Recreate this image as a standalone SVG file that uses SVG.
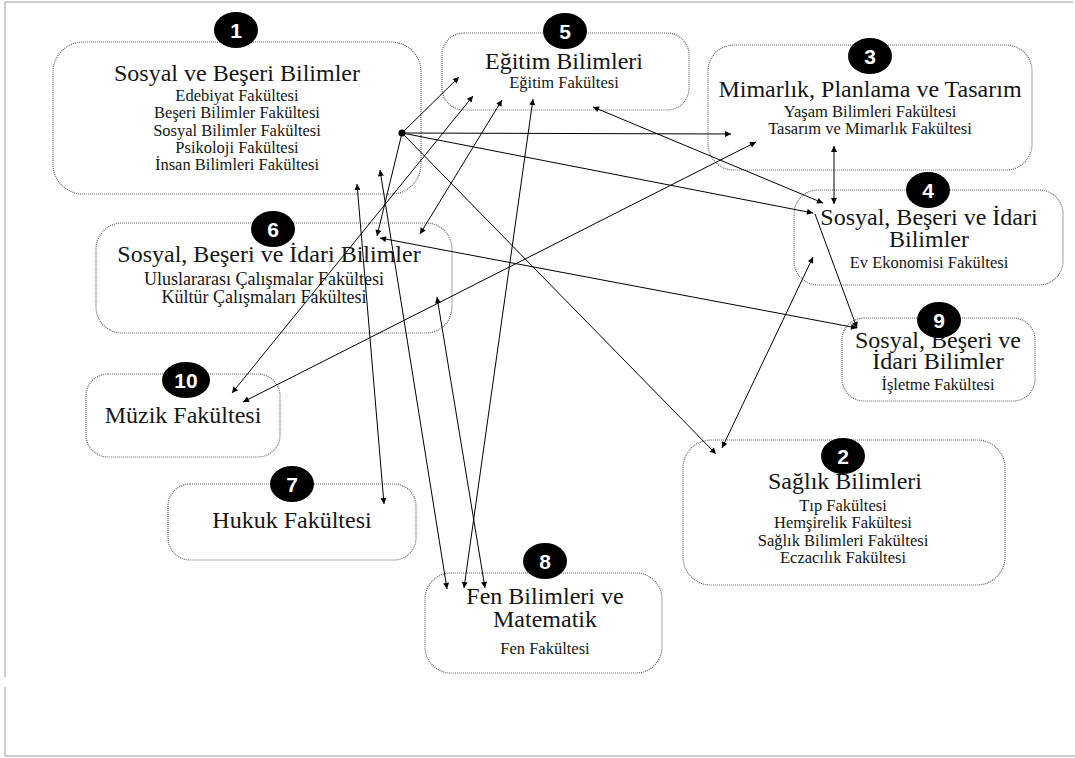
<svg xmlns="http://www.w3.org/2000/svg" width="1075" height="758" viewBox="0 0 1075 758">
  <style>
    .box { fill: #ffffff; stroke: #666666; stroke-width: 1.2; stroke-dasharray: 1 1; }
    .badge { fill: #000000; }
    .num { fill: #ffffff; font-family: 'Liberation Sans', Arial, sans-serif; font-weight: bold; font-size: 21px; text-anchor: middle; }
    .ttl { fill: #151515; font-family: 'Liberation Serif', 'Times New Roman', serif; font-size: 24px; text-anchor: middle; }
    .sub { fill: #151515; font-family: 'Liberation Serif', 'Times New Roman', serif; font-size: 16.5px; text-anchor: middle; }
    .sub6 { fill: #151515; font-family: 'Liberation Serif', 'Times New Roman', serif; font-size: 18px; text-anchor: middle; }
    .edge { stroke: #000000; stroke-width: 1; fill: none; }
    .one { marker-end: url(#arrow); }
    .two { marker-start: url(#arrow); marker-end: url(#arrow); }
    .frame { stroke: #bbbbbb; stroke-width: 1.5; fill: none; }
  </style>
  <defs>
    <marker id="arrow" viewBox="0 0 10 10" refX="10" refY="5" markerWidth="8" markerHeight="6" markerUnits="userSpaceOnUse" orient="auto-start-reverse">
      <path d="M0,0 L10,5 L0,10 z" fill="#000000"/>
    </marker>
  </defs>

  <rect width="1075" height="758" fill="#ffffff"/>

  <!-- page frame -->
  <g id="frame">
    <line class="frame" x1="5" y1="2" x2="1073" y2="2"/>
    <line class="frame" x1="5" y1="2" x2="5" y2="677"/>
    <line class="frame" x1="5" y1="687" x2="5" y2="756"/>
    <line class="frame" x1="5" y1="756" x2="1075" y2="756"/>
  </g>

  <!-- faculty groups -->
  <g id="node1">
    <rect class="box" x="53" y="42" width="368" height="152" rx="30"/>
    <text class="ttl" x="237" y="81">Sosyal ve Beşeri Bilimler</text>
    <text class="sub" x="237" y="101">Edebiyat Fakültesi</text>
    <text class="sub" x="237" y="118">Beşeri Bilimler Fakültesi</text>
    <text class="sub" x="237" y="135.5">Sosyal Bilimler Fakültesi</text>
    <text class="sub" x="237" y="152.5">Psikoloji Fakültesi</text>
    <text class="sub" x="237" y="170">İnsan Bilimleri Fakültesi</text>
    <ellipse class="badge" cx="236" cy="30" rx="22" ry="18"/>
    <text class="num" x="236" y="37.5">1</text>
  </g>

  <g id="node5">
    <rect class="box" x="442" y="33" width="247" height="77" rx="22"/>
    <text class="ttl" x="564" y="69">Eğitim Bilimleri</text>
    <text class="sub" x="564" y="88">Eğitim Fakültesi</text>
    <ellipse class="badge" cx="565" cy="31" rx="22" ry="18"/>
    <text class="num" x="565" y="38.5">5</text>
  </g>

  <g id="node3">
    <rect class="box" x="708" y="45" width="324" height="125" rx="26"/>
    <text class="ttl" x="870" y="97">Mimarlık, Planlama ve Tasarım</text>
    <text class="sub" x="870" y="117">Yaşam Bilimleri Fakültesi</text>
    <text class="sub" x="870" y="134">Tasarım ve Mimarlık Fakültesi</text>
    <ellipse class="badge" cx="870" cy="56" rx="22" ry="18"/>
    <text class="num" x="870" y="63.5">3</text>
  </g>

  <g id="node4">
    <rect class="box" x="794" y="190" width="269" height="95" rx="24"/>
    <text class="ttl" x="929" y="225">Sosyal, Beşeri ve İdari</text>
    <text class="ttl" x="929" y="247">Bilimler</text>
    <text class="sub" x="929" y="268">Ev Ekonomisi Fakültesi</text>
    <ellipse class="badge" cx="928" cy="190" rx="22" ry="18"/>
    <text class="num" x="928" y="197.5">4</text>
  </g>

  <g id="node6">
    <rect class="box" x="96" y="223" width="356" height="110" rx="26"/>
    <text class="ttl" x="269" y="262">Sosyal, Beşeri ve İdari Bilimler</text>
    <text class="sub6" x="264" y="285">Uluslararası Çalışmalar Fakültesi</text>
    <text class="sub6" x="264" y="303">Kültür Çalışmaları Fakültesi</text>
    <ellipse class="badge" cx="273" cy="229" rx="22" ry="18"/>
    <text class="num" x="273" y="236.5">6</text>
  </g>

  <g id="node9">
    <rect class="box" x="842" y="318" width="193" height="83" rx="22"/>
    <text class="ttl" x="938" y="348">Sosyal, Beşeri ve</text>
    <text class="ttl" x="938" y="369">İdari Bilimler</text>
    <text class="sub" x="938" y="390">İşletme Fakültesi</text>
    <ellipse class="badge" cx="939" cy="320" rx="22" ry="18"/>
    <text class="num" x="939" y="327.5">9</text>
  </g>

  <g id="node10">
    <rect class="box" x="86" y="374" width="194" height="83" rx="22"/>
    <text class="ttl" x="183" y="423">Müzik Fakültesi</text>
    <ellipse class="badge" cx="186" cy="380" rx="24" ry="18"/>
    <text class="num" x="186" y="387.5">10</text>
  </g>

  <g id="node7">
    <rect class="box" x="168" y="484" width="248" height="76" rx="22"/>
    <text class="ttl" x="292" y="528">Hukuk Fakültesi</text>
    <ellipse class="badge" cx="292" cy="484" rx="22" ry="18"/>
    <text class="num" x="292" y="491.5">7</text>
  </g>

  <g id="node2">
    <rect class="box" x="683" y="440" width="322" height="145" rx="28"/>
    <text class="ttl" x="845" y="489">Sağlık Bilimleri</text>
    <text class="sub" x="843" y="511">Tıp Fakültesi</text>
    <text class="sub" x="843" y="528">Hemşirelik Fakültesi</text>
    <text class="sub" x="843" y="546">Sağlık Bilimleri Fakültesi</text>
    <text class="sub" x="843" y="563">Eczacılık Fakültesi</text>
    <ellipse class="badge" cx="843" cy="456" rx="22" ry="18"/>
    <text class="num" x="843" y="463.5">2</text>
  </g>

  <g id="node8">
    <rect class="box" x="425" y="573" width="237" height="100" rx="26"/>
    <text class="ttl" x="545" y="604">Fen Bilimleri ve</text>
    <text class="ttl" x="545" y="627">Matematik</text>
    <text class="sub" x="545" y="654">Fen Fakültesi</text>
    <ellipse class="badge" cx="545" cy="561" rx="22" ry="18"/>
    <text class="num" x="545" y="568.5">8</text>
  </g>

  <!-- connectors -->
  <g id="connectors">
    <line class="edge one" x1="402" y1="133" x2="731" y2="134" stroke-width="1.4"/>
    <line class="edge one" x1="402" y1="133" x2="813" y2="213"/>
    <line class="edge one" x1="402" y1="133" x2="716" y2="454"/>
    <line class="edge one" x1="402" y1="133" x2="459" y2="77"/>
    <line class="edge one" x1="402" y1="133" x2="377" y2="236"/>
    <circle cx="402" cy="133" r="3.5" fill="#000000"/>
    <line class="edge two" x1="243" y1="402" x2="756" y2="142"/>
    <line class="edge two" x1="232" y1="393" x2="473" y2="96"/>
    <line class="edge two" x1="420" y1="234" x2="502" y2="100"/>
    <line class="edge two" x1="533" y1="99" x2="464" y2="588"/>
    <line class="edge two" x1="593" y1="107" x2="823" y2="203"/>
    <line class="edge two" x1="380" y1="238" x2="857" y2="328"/>
    <line class="edge two" x1="437" y1="297" x2="485" y2="588"/>
    <line class="edge two" x1="357" y1="184" x2="384" y2="504"/>
    <line class="edge two" x1="380" y1="170" x2="447" y2="589"/>
    <line class="edge two" x1="834" y1="146" x2="834" y2="204"/>
    <line class="edge two" x1="722" y1="448" x2="813" y2="257"/>
    <line class="edge one" x1="815" y1="214" x2="857" y2="328"/>
  </g>
</svg>
